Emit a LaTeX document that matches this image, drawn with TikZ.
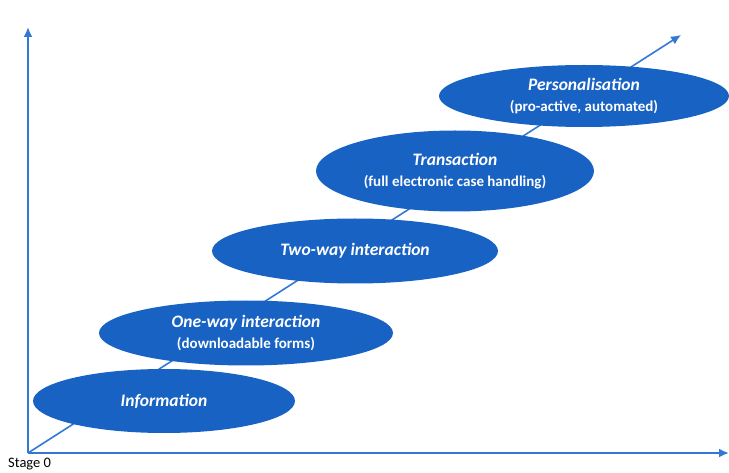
\documentclass[tikz,border=0pt]{standalone}
\usepackage{fontspec}
\setmainfont{Carlito}
\usetikzlibrary{shapes.geometric,arrows.meta}
\definecolor{ellblue}{RGB}{24,98,196}
\definecolor{axblue}{RGB}{52,120,214}
\tikzset{
  stage/.style={ellipse, fill=ellblue, draw=none, inner sep=0pt, text=white, align=center,
    font=\fontsize{15}{21}\selectfont\bfseries},
  axis/.style={draw=axblue, line width=1.8pt, -{Latex[length=10pt,width=9pt]}},
}
\newcommand{\ttl}[1]{{\fontsize{17.5}{21}\selectfont\bfseries\itshape #1}}
\begin{document}
\begin{tikzpicture}[x=1pt,y=-1pt]
\useasboundingbox (0,0) rectangle (729,473);
\coordinate (O) at (28,453);
\coordinate (Ytop) at (28,27);
\coordinate (Xend) at (729,453);
\coordinate (Dend) at (681,35);
\draw[axis] (O) -- (Ytop);
\draw[axis] (O) -- (Xend);
\draw[axis, line width=1.6pt] (O) -- (Dend);
\node[stage, minimum width=262pt, minimum height=64pt] (info) at (164,401) {\ttl{Information}};
\node[stage, minimum width=294pt, minimum height=65pt] (oneway) at (246,333) {\ttl{One-way interaction}\\(downloadable forms)};
\node[stage, minimum width=286pt, minimum height=65pt] (twoway) at (355,251) {\ttl{Two-way interaction}};
\node[stage, minimum width=278pt, minimum height=81pt] (trans) at (455,171) {\ttl{Transaction}\\(full electronic case handling)};
\node[stage, minimum width=290pt, minimum height=62pt] (pers) at (584,96) {\ttl{Personalisation}\\(pro-active, automated)};
\node[anchor=north west, inner sep=0pt, font=\fontsize{14.5}{14.5}\selectfont] (stage0) at (8,458) {Stage 0};
\end{tikzpicture}
\end{document}
